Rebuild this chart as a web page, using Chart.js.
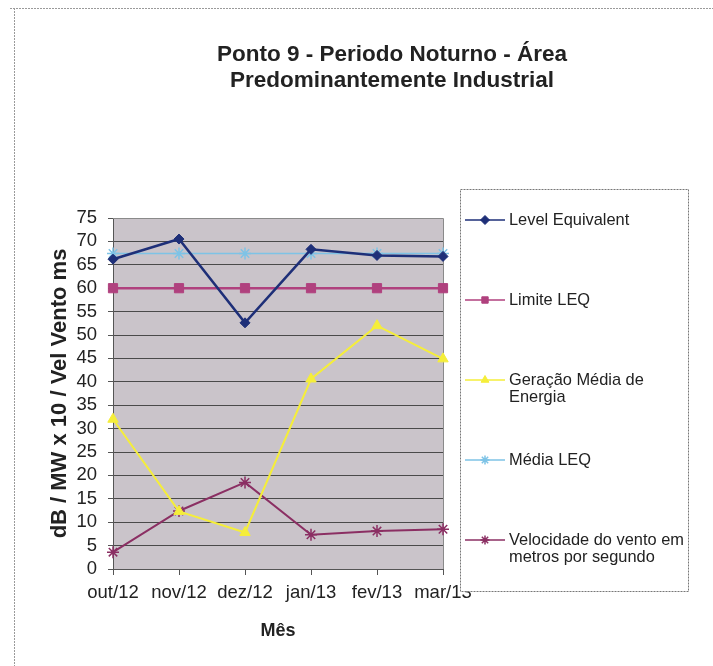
<!DOCTYPE html>
<html>
<head>
<meta charset="utf-8">
<script src="https://cdn.jsdelivr.net/npm/chart.js@4.4.0/dist/chart.umd.min.js"></script>
<style>
html,body{margin:0;padding:0;background:#fff;}
#wrap{position:absolute;left:0;top:0;width:713px;height:666px;}
</style>
</head>
<body>
<div id="wrap"><canvas id="c" width="713" height="666"></canvas></div>
<script>
// ---- data ----
const months = ['out/12', 'nov/12', 'dez/12', 'jan/13', 'fev/13', 'mar/13'];
const levelEquivalent = [66.2, 70.5, 52.6, 68.3, 67.0, 66.8];
const limiteLEQ = [60, 60, 60, 60, 60, 60];
const geracaoMedia = [32.0, 12.3, 7.8, 40.6, 52.0, 44.9];
const mediaLEQ = [67.4, 67.4, 67.4, 67.4, 67.4, 67.4];
const velocidadeVento = [3.6, 12.4, 18.5, 7.3, 8.1, 8.5];
const seriesLabels = ['Level Equivalent', 'Limite LEQ', 'Geração Média de\nEnergia', 'Média LEQ', 'Velocidade do vento em\nmetros por segundo'];
const titleLines = ['Ponto 9 - Periodo Noturno - Área', 'Predominantemente Industrial'];
const yAxisTitle = 'dB / MW x 10 / Vel Vento ms';
const xAxisTitle = 'Mês';
const yMin = 0, yMax = 75, yStep = 5;

const FONT = '"Liberation Sans", Arial, sans-serif';
const colors = ['#1E2F78', '#B0417E', '#F5EE3A', '#7EC3E6', '#8B2F63'];
const seriesData = [levelEquivalent, limiteLEQ, geracaoMedia, mediaLEQ, velocidadeVento];
const pointStyles = ['rectRot', 'rect', 'triangle', 'star', 'star'];
const pointRadii = [5, 6.5, 6, 6, 6];
const lineWidths = [2.5, 2.5, 2, 1.5, 2];

const datasets = seriesData.map((d, i) => ({
  label: seriesLabels[i],
  data: d,
  borderColor: colors[i],
  backgroundColor: colors[i],
  pointBackgroundColor: colors[i],
  pointBorderColor: colors[i],
  pointStyle: pointStyles[i],
  pointRadius: pointRadii[i],
  pointBorderWidth: pointStyles[i] === 'star' ? 1.5 : 1,
  borderWidth: lineWidths[i],
  tension: 0,
  fill: false
}));

const bgPlugin = {
  id: 'bg',
  beforeDraw(chart) {
    const ctx = chart.ctx, a = chart.chartArea;
    ctx.save();
    ctx.fillStyle = '#fff';
    ctx.fillRect(0, 0, chart.width, chart.height);
    // outer frame (left and top)
    ctx.strokeStyle = '#9a9a9a';
    ctx.lineWidth = 1;
    ctx.setLineDash([2, 1]);
    ctx.beginPath();
    ctx.moveTo(10, 8.5); ctx.lineTo(chart.width, 8.5);
    ctx.moveTo(14.5, 8); ctx.lineTo(14.5, chart.height);
    ctx.stroke();
    ctx.setLineDash([]);
    ctx.fillStyle = '#CAC4CA';
    ctx.fillRect(a.left, a.top, a.right - a.left, a.bottom - a.top);
    ctx.restore();
  },
  beforeDatasetsDraw(chart) {
    const ctx = chart.ctx, a = chart.chartArea;
    ctx.save();
    ctx.strokeStyle = '#8a8a8a';
    ctx.lineWidth = 1;
    ctx.beginPath();
    ctx.moveTo(a.left, a.top + 0.5); ctx.lineTo(a.right + 0.5, a.top + 0.5);
    ctx.lineTo(a.right + 0.5, a.bottom);
    ctx.stroke();
    ctx.restore();
  }
};

const titleLegendPlugin = {
  id: 'titleLegend',
  afterDraw(chart) {
    const ctx = chart.ctx;
    ctx.save();
    // title
    ctx.fillStyle = '#222';
    ctx.font = 'bold 22.5px ' + FONT;
    ctx.textAlign = 'center';
    ctx.textBaseline = 'alphabetic';
    titleLines.forEach((t, i) => ctx.fillText(t, 392, 61 + i * 26));

    // legend box
    const L = 460.5, T = 189.5, R = 688.5, B = 591.5;
    ctx.fillStyle = '#fff';
    ctx.fillRect(L, T, R - L, B - T);
    ctx.strokeStyle = '#777';
    ctx.lineWidth = 1;
    ctx.setLineDash([2, 1]);
    ctx.strokeRect(L, T, R - L, B - T);
    ctx.setLineDash([]);
    ctx.beginPath();
    ctx.rect(L, T, R - L, B - T);
    ctx.clip();
    chart.data.datasets.forEach((ds, i) => {
      const y = 220 + i * 80;
      ctx.strokeStyle = ds.borderColor;
      ctx.lineWidth = 1.5;
      ctx.beginPath();
      ctx.moveTo(465, y); ctx.lineTo(505, y);
      ctx.stroke();
      ctx.fillStyle = ds.pointBackgroundColor;
      ctx.strokeStyle = ds.pointBorderColor;
      ctx.lineWidth = ds.pointBorderWidth;
      Chart.helpers.drawPoint(ctx, {
        pointStyle: ds.pointStyle,
        radius: Math.min(ds.pointRadius, 5) - 0.5,
        rotation: 0,
        borderWidth: ds.pointBorderWidth
      }, 485, y);
      ctx.fillStyle = '#222';
      ctx.font = '16.4px ' + FONT;
      ctx.textAlign = 'left';
      ctx.textBaseline = 'middle';
      ds.label.split('\n').forEach((ln, k) => ctx.fillText(ln, 509, y + k * 17.5));
    });
    ctx.restore();
  }
};

new Chart(document.getElementById('c'), {
  type: 'line',
  data: { labels: months, datasets: datasets },
  options: {
    responsive: false,
    animation: false,
    layout: { padding: { top: 218, right: 270, bottom: 0, left: 0 } },
    plugins: {
      legend: { display: false },
      title: { display: false },
      tooltip: { enabled: false }
    },
    scales: {
      x: {
        type: 'category',
        offset: false,
        grid: { drawOnChartArea: false, drawTicks: true, tickLength: 6, tickColor: '#555' },
        border: { display: true, color: '#555', width: 1 },
        ticks: { color: '#222', font: { family: FONT, size: 18.5 }, padding: 7, maxRotation: 0, autoSkip: false },
        title: { display: true, text: xAxisTitle, color: '#222', font: { family: FONT, size: 18, weight: 'bold' }, padding: { top: 24, bottom: 24 } },
        afterFit(scale) { scale.height = 97; }
      },
      y: {
        min: yMin, max: yMax,
        grid: { color: '#4a4a4a', lineWidth: 1, drawTicks: true, tickLength: 5, tickColor: '#555' },
        border: { display: true, color: '#555', width: 1 },
        ticks: { stepSize: yStep, autoSkip: false, color: '#222', font: { family: FONT, size: 18.5 }, padding: 11 },
        title: { display: true, text: yAxisTitle, color: '#222', font: { family: FONT, size: 22, weight: 'bold' }, padding: { top: 47, bottom: 47 } },
        afterFit(scale) { scale.width = 113; }
      }
    }
  },
  plugins: [bgPlugin, titleLegendPlugin]
});
</script>
</body>
</html>
